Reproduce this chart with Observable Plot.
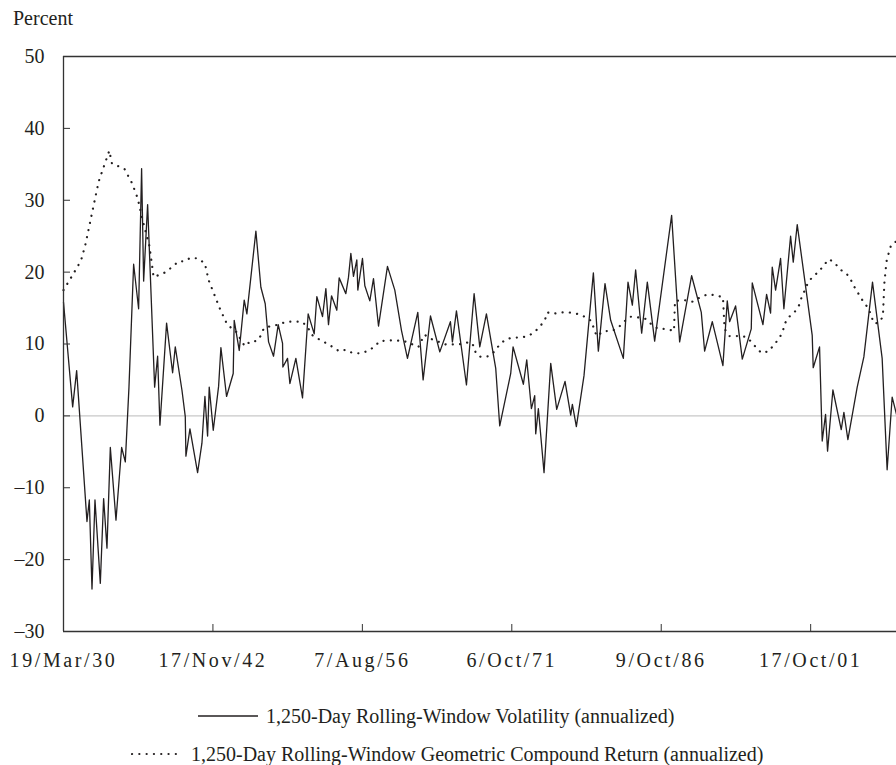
<!DOCTYPE html>
<html><head><meta charset="utf-8">
<script src="https://cdn.jsdelivr.net/npm/d3@7"></script>
<script src="https://cdn.jsdelivr.net/npm/@observablehq/plot@0.6"></script>
<style>
body{margin:0;background:#fff;}
#wrap{position:relative;width:896px;height:765px;font-family:"Liberation Serif",serif;color:#231f20;overflow:hidden;}
#chart{position:absolute;left:0;top:0;}
#ylab{position:absolute;left:13px;top:7px;font-size:20px;}
.leg{position:absolute;display:flex;align-items:center;font-size:20px;white-space:nowrap;height:24px;}
.leg svg{display:block;}
</style></head><body>
<div id="wrap">
<div id="chart"></div>
<div id="ylab">Percent</div>
<div class="leg" id="leg1" style="left:198px;top:704px"><svg width="60" height="10"><line x1="0" x2="60" y1="5" y2="5" stroke="#231f20" stroke-width="1.3"/></svg><span style="margin-left:8px">1,250-Day Rolling-Window Volatility (annualized)</span></div>
<div class="leg" id="leg2" style="left:131px;top:742px"><svg width="52" height="10"><line x1="1" x2="52" y1="5" y2="5" stroke="#231f20" stroke-width="2.2" stroke-linecap="round" stroke-dasharray="0.1,7.2"/></svg><span style="margin-left:8px">1,250-Day Rolling-Window Geometric Compound Return (annualized)</span></div>
</div>
<script>
// x positions are trading-day offsets from 19/Mar/30
const tickDays = [0, 3750, 7500, 11250, 15000, 18750];
const tickLabels = ["19/Mar/30", "17/Nov/42", "7/Aug/56", "6/Oct/71", "9/Oct/86", "17/Oct/01"];
const yTicks = [-30, -20, -10, 0, 10, 20, 30, 40, 50];
const yTickLabels = ["\u201330", "\u201320", "\u201310", "0", "10", "20", "30", "40", "50"];
const xEnd = 20904;

// solid series
const solidDay = [0,230,330,589,648,715,790,924,1007,1091,1175,1317,1459,1551,1643,1760,1885,1960,2011,2111,2287,2362,2420,2587,2738,2805,
2972,3056,3072,3173,3365,3474,3549,3616,3657,3758,3892,3950,4092,4259,4284,4410,4535,4602,4828,4953,5062,5146,5271,5388,5497,5505,5622,5681,5831,
5998,6140,6291,6358,6500,6584,6650,6726,6859,6918,7085,7152,7211,7277,7361,7386,7503,7562,7687,7779,7905,8130,8314,8481,8632,8891,
9025,9209,9443,9710,9760,9861,10112,10304,10446,10613,10847,10947,11223,11282,11541,11625,11742,11825,11850,11917,
12059,12227,12377,12586,12728,12770,12870,13062,13297,13422,13589,13731,14049,14166,14275,14358,14509,14651,14835,
15261,15462,15763,16005,16089,16281,16548,16657,16716,16866,17034,17259,17284,17552,17644,17744,17786,17870,
17995,18078,18246,18313,18413,18789,18814,18973,19040,19124,19174,19308,19517,19584,19684,19918,20085,20302,20544,20669,20795,20904];
const solidValue = [15.8,1.25,6.3,-14.7,-11.7,-24.1,-11.7,-23.3,-11.5,-18.4,-4.4,-14.5,-4.4,-6.4,4.0,21.1,14.9,34.4,18.75,29.4,4.0,8.3,-1.3,12.9,6.0,9.6,
3.6,-0.1,-5.6,-1.8,-7.9,-3.8,2.7,-2.8,4.0,-2.0,4.1,9.5,2.7,5.9,13.3,9.1,16.1,14.2,25.7,17.9,15.6,10.3,8.3,12.7,10.1,6.8,8.0,4.5,8.0,
2.5,14.2,11.4,16.6,13.8,17.7,12.7,16.7,14.7,19.2,17.0,19.3,22.6,19.4,21.7,17.5,21.9,18.1,16.0,19.1,12.5,20.8,17.5,11.9,8.0,14.4,
5.0,13.9,8.9,13.1,10.3,14.6,4.3,17.0,9.6,14.2,6.6,-1.4,5.9,9.6,4.4,7.8,1.0,2.8,-2.5,1.0,
-7.9,7.3,0.9,4.8,0.1,1.6,-1.5,5.6,19.9,9.0,18.4,13.3,8.0,18.6,15.4,20.3,11.5,18.6,10.4,
27.9,10.3,19.5,14.4,9.0,13.1,7.0,16.0,13.1,15.3,7.9,12.1,18.5,12.7,16.9,14.3,20.7,17.5,
21.9,14.9,25.0,21.4,26.6,11.2,6.7,9.6,-3.5,0.2,-4.9,3.6,-1.9,0.5,-3.3,4.0,8.2,18.6,8.0,-7.5,2.6,0.2];

// dotted series
const dottedDay = [0,230,439,548,882,1150,1216,1526,1718,1860,2002,2153,2236,2261,2571,2889,3030,3189,3382,3549,3641,3783,3933,4109,4377,4452,4552,4694,4845,4945,5028,5204,5397,5589,5789,
5982,6124,6224,6400,6567,6751,6918,7085,7252,7436,7628,7796,7938,8147,8339,8548,8732,8907,9058,9225,9610,10011,10195,10304,10346,10471,10663,10805,10931,11081,11265,11457,11658,11825,
11967,12084,12143,12285,12486,12686,12887,13079,13247,13313,13380,13556,13756,13924,14066,14225,14417,14609,14760,14927,15128,15320,15345,15587,15780,15947,16156,16348,16549,16590,16716,16925,17117,17268,17393,17518,17702,17828,17953,
18053,18095,18204,18354,18471,18521,18605,18680,18805,18964,19081,19216,19358,19483,19651,19768,19860,19960,20069,20194,20270,20328,20437,20562,20600,20653,20711,20770,20904];
const dottedValue = [17.5,19.6,21.6,23.8,32.6,36.9,35.1,34.4,32.4,30.3,26.9,23.7,20.4,19.3,20.0,21.5,21.5,22.0,21.9,21.2,18.9,16.9,14.8,12.7,11.5,10.5,9.7,10.4,10.4,11.1,12.2,12.5,12.7,13.1,13.1,
13.1,12.4,11.3,10.7,10.2,9.6,9.0,9.2,8.75,8.7,9.0,9.6,10.4,10.5,10.5,10.4,10.0,9.6,11.3,10.7,9.9,10.0,10.3,9.7,8.7,8.2,8.3,8.9,9.8,10.6,10.9,10.9,11.1,11.7,
12.5,13.4,14.4,14.2,14.4,14.4,14.2,13.8,13.2,12.1,11.1,11.8,11.8,12.3,13.1,13.8,13.7,13.5,12.7,12.1,12.1,11.8,16.0,16.1,15.9,16.4,16.9,16.8,16.5,12.1,11.1,11.1,11.0,10.3,9.4,8.75,9.0,9.9,10.7,
11.8,12.8,13.75,14.5,15.5,16.5,17.5,18.5,19.4,20.1,21.0,21.8,21.25,20.4,19.8,18.8,17.8,16.9,15.9,15.0,14.0,12.9,12.9,13.75,18.5,21.5,22.7,23.8,24.3];

const solid = solidDay.map((d, i) => ({day: d, value: solidValue[i]}));
const dotted = dottedDay.map((d, i) => ({day: d, value: dottedValue[i]}));

const ink = "#231f20";
const chart = Plot.plot({
  width: 896, height: 690,
  marginTop: 56, marginLeft: 63, marginRight: 0, marginBottom: 59,
  style: {fontFamily: '"Liberation Serif", serif', fontSize: "20px", color: ink, background: "transparent", overflow: "visible"},
  x: {domain: [0, xEnd], label: null},
  y: {domain: [-30, 50], label: null},
  marks: [
    Plot.ruleY([0], {stroke: "#c8c8c8", strokeWidth: 1.3}),
    Plot.line(dotted, {x: "day", y: "value", stroke: ink, strokeWidth: 2.2, strokeLinecap: "round", strokeDasharray: "0.1,7.2"}),
    Plot.line(solid, {x: "day", y: "value", stroke: ink, strokeWidth: 1.3}),
    Plot.ruleY([50, -30], {stroke: "#333", strokeWidth: 1.3}),
    Plot.ruleX([0], {stroke: "#333", strokeWidth: 1.3}),
    Plot.axisX({ticks: tickDays, tickFormat: d => tickLabels[tickDays.indexOf(d)], tickSize: -7, tickPadding: 28, label: null, stroke: "#333"}),
    Plot.axisY({ticks: yTicks, tickFormat: d => yTickLabels[yTicks.indexOf(d)], tickSize: -7, tickPadding: 26, label: null, stroke: "#333"})
  ]
});
chart.querySelectorAll('g[aria-label="x-axis tick label"] text').forEach(t => {
  t.style.letterSpacing = "2.6px";
});
document.getElementById("chart").appendChild(chart);
</script>
</body></html>
